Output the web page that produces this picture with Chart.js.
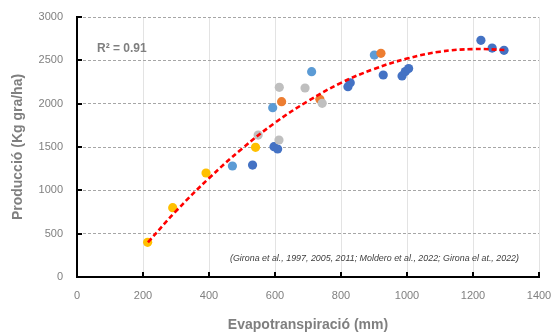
<!DOCTYPE html>
<html>
<head>
<meta charset="utf-8">
<script src="https://cdn.jsdelivr.net/npm/chart.js@4.4.1/dist/chart.umd.min.js"></script>
<style>
  html, body { margin: 0; padding: 0; background: #ffffff; }
  #wrap { width: 554px; height: 334px; }
</style>
</head>
<body>
<div id="wrap"><canvas id="chart"></canvas></div>
<script>
// ── Data ───────────────────────────────────────────────────────────────────
const xTicks = [0, 200, 400, 600, 800, 1000, 1200, 1400];
const yTicks = [0, 500, 1000, 1500, 2000, 2500, 3000];

const blueET    = [532, 597, 608, 821, 828, 928, 985, 995, 1005, 1224, 1258, 1294];
const blueProd  = [1292, 1504, 1477, 2195, 2240, 2331, 2320, 2370, 2405, 2731, 2642, 2615];

const lightET   = [471, 593, 711, 901];
const lightProd = [1281, 1954, 2369, 2561];

const greyET    = [549, 612, 613, 691, 743];
const greyProd  = [1638, 1581, 2189, 2181, 2004];

const orangeET   = [620, 736, 921];
const orangeProd = [2023, 2050, 2581];

const yellowET   = [214, 290, 391, 541];
const yellowProd = [400, 800, 1200, 1496];

// polynomial trend line
const trendET   = [215, 300, 400, 500, 600, 700, 800, 900, 1000, 1100, 1200, 1295];
const trendProd = [400, 760, 1140, 1480, 1780, 2030, 2240, 2400, 2520, 2600, 2630, 2620];

const r2Label   = 'R\u00b2 = 0.91';
const sourceTxt = '(Girona et al., 1997, 2005, 2011; Moldero et al., 2022; Girona el at., 2022)';

// ── Styling ────────────────────────────────────────────────────────────────
const FONT = "'Liberation Sans', Arial, sans-serif";
const TICK_COLOR = '#808080';
const TITLE_COLOR = '#7f7f7f';

function pts(xs, ys) {
  return xs.map((x, i) => ({ x, y: ys[i] }));
}

function dotSet(label, xs, ys, color, order) {
  return {
    label,
    data: pts(xs, ys),
    backgroundColor: color,
    borderWidth: 0,
    pointRadius: 4.6,
    pointHoverRadius: 4.6,
    showLine: false,
    order,
  };
}

// ── Plugins: inner tick marks + text annotations ───────────────────────────
const innerTicks = {
  id: 'innerTicks',
  afterDraw(chart) {
    const { ctx, scales: { x, y } } = chart;
    ctx.save();
    ctx.strokeStyle = '#000';
    ctx.lineWidth = 2;
    ctx.beginPath();
    xTicks.forEach(v => {
      const px = Math.round(x.getPixelForValue(v));
      ctx.moveTo(px, y.bottom);
      ctx.lineTo(px, y.bottom - 5);
    });
    yTicks.forEach(v => {
      const py = Math.round(y.getPixelForValue(v));
      ctx.moveTo(x.left, py);
      ctx.lineTo(x.left + 5, py);
    });
    ctx.stroke();
    ctx.restore();
  },
};

const notes = {
  id: 'notes',
  afterDraw(chart) {
    const { ctx, chartArea: a } = chart;
    ctx.save();
    ctx.fillStyle = '#7f7f7f';
    ctx.font = `bold 12px ${FONT}`;
    ctx.textBaseline = 'middle';
    ctx.textAlign = 'left';
    ctx.fillText(r2Label, a.left + 20, a.top + 32);

    // citation, stretched to the width it takes in the reference
    ctx.fillStyle = '#404040';
    ctx.font = `italic 8.5px ${FONT}`;
    const w = ctx.measureText(sourceTxt).width;
    const target = 289;
    ctx.textAlign = 'right';
    ctx.translate(a.right - 20, a.bottom - 18);
    ctx.scale(target / w, 1);
    ctx.fillText(sourceTxt, 0, 0);
    ctx.restore();
  },
};

// ── Chart ──────────────────────────────────────────────────────────────────
new Chart(document.getElementById('chart'), {
  type: 'scatter',
  data: {
    datasets: [
      {
        label: 'Poly.',
        data: pts(trendET, trendProd),
        showLine: true,
        borderColor: '#ff0000',
        borderWidth: 2.6,
        borderDash: [5, 3],
        borderCapStyle: 'butt',
        pointRadius: 0,
        tension: 0.4,
        fill: false,
        order: 0,
      },
      dotSet('yellow', yellowET, yellowProd, '#ffc000', 1),
      dotSet('grey', greyET, greyProd, '#bfbfbf', 2),
      dotSet('orange', orangeET, orangeProd, '#ed7d31', 3),
      dotSet('lightblue', lightET, lightProd, '#5b9bd5', 4),
      dotSet('blue', blueET, blueProd, '#4472c4', 5),
    ],
  },
  options: {
    responsive: true,
    maintainAspectRatio: false,
    animation: false,
    events: [],
    layout: { padding: { left: 0, right: 15, top: 17, bottom: 0 } },
    plugins: {
      legend: { display: false },
      tooltip: { enabled: false },
    },
    scales: {
      x: {
        type: 'linear',
        min: 0,
        max: 1400,
        afterBuildTicks: (s) => { s.ticks = xTicks.map(v => ({ value: v })); },
        afterFit: (s) => {
          s.height = 57;
          s.paddingLeft = 0;
          s.paddingRight = 0;
        },
        grid: {
          color: (c) => (c.tick && c.tick.value === 0 ? 'rgba(0,0,0,0)' : '#e3e3e3'),
          lineWidth: 1,
          drawTicks: false,
        },
        border: { display: true, color: '#000', width: 2, dash: [] },
        ticks: {
          color: TICK_COLOR,
          font: { family: FONT, size: 11 },
          padding: 12,
          callback: (v) => String(v),
        },
        title: {
          display: true,
          text: 'Evapotranspiració (mm)',
          color: TITLE_COLOR,
          font: { family: FONT, size: 14, weight: 'bold' },
          padding: { top: 4, bottom: 0 },
        },
      },
      y: {
        type: 'linear',
        min: 0,
        max: 3000,
        afterBuildTicks: (s) => { s.ticks = yTicks.map(v => ({ value: v })); },
        afterFit: (s) => {
          s.width = 77;
          s.paddingTop = 0;
          s.paddingBottom = 0;
        },
        grid: {
          color: (c) => (c.tick && c.tick.value === 0 ? 'rgba(0,0,0,0)' : '#a6a6a6'),
          lineWidth: 1,
          drawTicks: false,
        },
        border: { display: true, color: '#000', width: 2, dash: [3, 2] },
        ticks: {
          color: TICK_COLOR,
          font: { family: FONT, size: 11 },
          padding: 14,
          callback: (v) => String(v),
        },
        title: {
          display: true,
          text: 'Producció (Kg gra/ha)',
          color: TITLE_COLOR,
          font: { family: FONT, size: 14, weight: 'bold' },
          padding: { top: 10, bottom: 0 },
        },
      },
    },
  },
  plugins: [innerTicks, notes],
});
</script>
</body>
</html>
